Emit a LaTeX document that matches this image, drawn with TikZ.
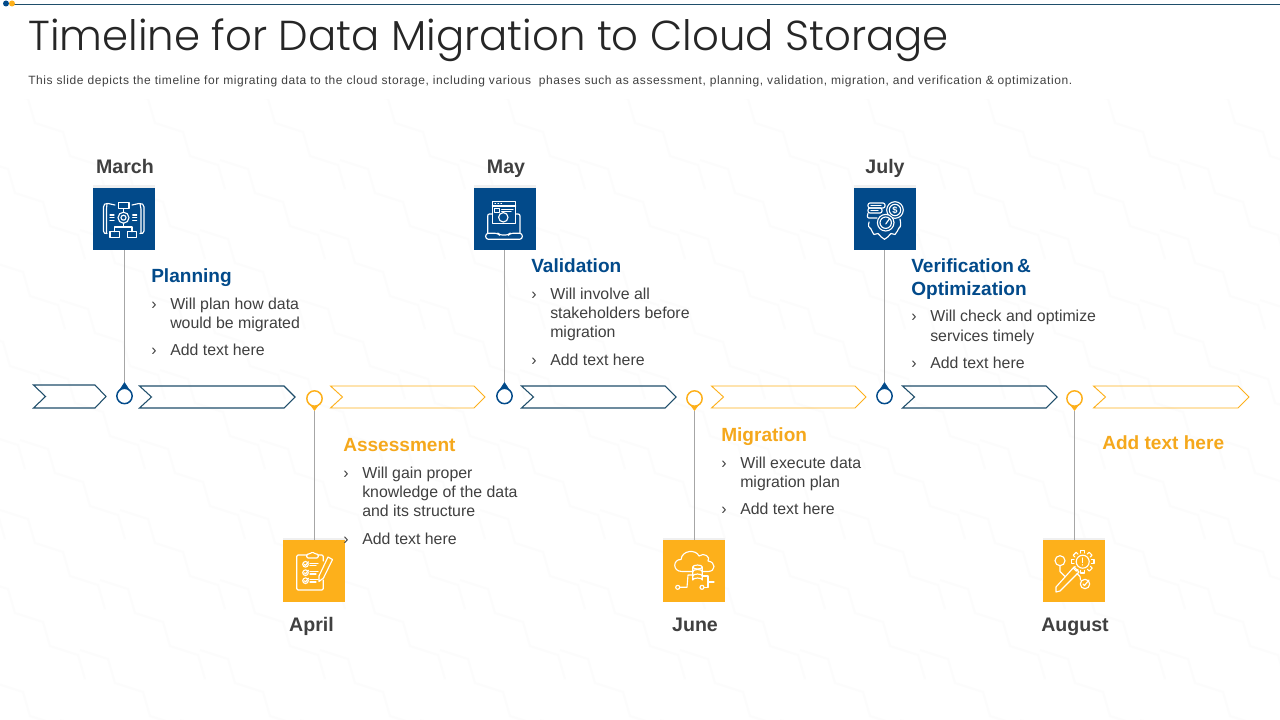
\documentclass[tikz,border=0pt]{standalone}
\usepackage{fontspec}
\setmainfont{Liberation Sans}
\newfontfamily\titlefont[Ligatures=NoCommon]{Poppins Light}
\newfontfamily\subfont[LetterSpace=4.9]{Liberation Sans}
\definecolor{bluec}{HTML}{024A8A}
\definecolor{orangec}{HTML}{FDB01B}
\definecolor{orangetxt}{HTML}{F5A81C}
\definecolor{darktxt}{HTML}{404040}
\definecolor{linegray}{HTML}{A6A6A6}
\definecolor{navyline}{HTML}{1F4E6B}
\tikzset{
  x=0.75pt,y=-0.75pt,
  tile/.style={minimum size=46.5pt,inner sep=0,outer sep=0,anchor=north west},
  bluetile/.style={tile,fill=bluec},
  orangetile/.style={tile,fill=orangec},
  month/.style={anchor=base,inner sep=0,text=darktxt,font=\fontsize{14.7}{18}\selectfont\bfseries},
  head/.style={anchor=base west,inner sep=0,font=\fontsize{14.3}{17.5}\selectfont\bfseries},
  bodytxt/.style={anchor=base west,inner sep=0,yshift=0.4pt,text=darktxt,font=\fontsize{11.9}{14.3}\selectfont},
  stem/.style={draw=linegray,line width=0.6pt},
  icon/.style={draw=white,line width=0.85pt,line join=round,line cap=round,fill=none},
  bluechev/.style={draw=navyline,line width=0.8pt,line join=miter},
  orangechev/.style={draw=orangec,line width=0.7pt,line join=miter},
  pincircle/.style={circle,minimum size=11.5pt,inner sep=0,fill=white,line width=1.1pt},
}
\newcommand{\chev}[5]{% style,left,right,top,bottom
  \pgfmathsetmacro{\midy}{(#4+#5)/2}
  \draw[#1] (#2,#4) -- (#3-11,#4) -- (#3,\midy) -- (#3-11,#5) -- (#2,#5) -- (#2+12,\midy) -- cycle;
}
\newcommand{\bul}[3]{\node[bodytxt] at (#1,#2) {›}; \node[bodytxt] at (#1+19,#2) {#3};}
\begin{document}
\begin{tikzpicture}
\useasboundingbox (0,0) rectangle (1280,720);
\fill[white] (0,0) rectangle (1280,720);
% faint background zigzag
\begin{scope}
\clip (0,100) rectangle (1280,720);
\foreach \row in {0,1,...,9}{
  \foreach \col in {-2,-1,...,11}{
    \draw[black!1.2,line width=1.5pt,line join=round]
      ({\col*120+\row*-20},{90+\row*70})
      -- ++(28,9) -- ++(7,24) -- ++(28,9) -- ++(7,24) -- ++(28,9) -- ++(7,24);
  }
}
\end{scope}
% top rule
\draw[navyline,line width=0.7pt] (14,4.5) -- (1280,4.5);
\fill[bluec] (6,3.5) circle (3);
\fill[orangec] (12,3.5) circle (3);
% title
\node[anchor=base west,inner sep=0,text=black!85] (title) at (28,50.5) {\titlefont\fontsize{31.4}{40}\selectfont Timeline for Data Migration to Cloud Storage};
\node[anchor=base west,inner sep=0,text=darktxt] (sub) at (28,85) {\subfont\fontsize{9}{11}\selectfont This slide depicts the timeline for migrating data to the cloud storage, including various\ \ phases such as assessment, planning, validation,\ migration, and verification\ \& optimization.};
% chevrons
\chev{bluechev}{33.5}{106}{385}{408}
\chev{bluechev}{139.5}{295}{386}{408}
\chev{orangechev}{330.5}{485}{386}{408}
\chev{bluechev}{521.5}{676}{386}{408}
\chev{orangechev}{711.5}{866}{386}{408}
\chev{bluechev}{902.5}{1057}{386}{408}
\chev{orangechev}{1093.5}{1249}{386}{408}
% tile shadows
\foreach \xx in {93,473.5,853.5}{ \fill[black!6] (\xx,185.5) rectangle (\xx+62,188); }
\foreach \xx in {283,663,1043}{ \fill[black!6] (\xx,537.5) rectangle (\xx+62,540); }
\node[bluetile] (t1) at (93,188) {};
\node[bluetile] (t3) at (473.5,188) {};
\node[bluetile] (t5) at (853.5,188) {};
\node[orangetile] (t2) at (283,540) {};
\node[orangetile] (t4) at (663,540) {};
\node[orangetile] (t6) at (1043,540) {};
% pins
\foreach \n/\x in {p1/124.5,p3/504.5,p5/884.5}{
  \coordinate (\n tip) at (\x,382);
  \fill[bluec] (\x-6.5,392) -- (\n tip) -- (\x+6.5,392) -- cycle;
  \node[pincircle,draw=bluec] (\n) at (\x,396) {};
}
\foreach \n/\x in {p2/314.5,p4/694.5,p6/1074.5}{
  \coordinate (\n tip) at (\x,411);
  \fill[orangec] (\x-6.5,402) -- (\n tip) -- (\x+6.5,402) -- cycle;
  \node[pincircle,draw=orangec] (\n) at (\x,398.5) {};
}
\foreach \a/\b in {t1/p1,t3/p3,t5/p5}{ \draw[stem] (\a.south -| \b tip) -- (\b tip); }
\foreach \a/\b in {t2/p2,t4/p4,t6/p6}{ \draw[stem] (\a.north -| \b tip) -- (\b tip); }
% months
\node[month] (m1) at (125,173.5) {March};
\node[month] (m3) at (506,173.5) {May};
\node[month] (m5) at (885,173.5) {July};
\node[month] (m2) at (311.5,631) {April};
\node[month] (m4) at (695,631) {June};
\node[month] (m6) at (1075,631) {August};
% planning
\node[head,text=bluec] (h1) at (151,282) {Planning};
\bul{151}{310}{Will plan how data}
\node[bodytxt] at (170,329) {would be migrated};
\bul{151}{356}{Add text here}
% validation
\node[head,text=bluec] (h3) at (531,272.5) {Validation};
\bul{531}{300}{Will involve all}
\node[bodytxt] at (550,319) {stakeholders before};
\node[bodytxt] at (550,338) {migration};
\bul{531}{366}{Add text here}
% verification
\node[head,text=bluec] (h5) at (911,272.5) {Verification\,\&};
\node[head,text=bluec] (h5b) at (911,295) {Optimization};
\bul{911}{322}{Will check and optimize}
\node[bodytxt] at (930,342) {services timely};
\bul{911}{369}{Add text here}
% assessment
\node[head,text=orangetxt] (h2) at (343,451) {Assessment};
\bul{343}{479}{Will gain proper}
\node[bodytxt] at (362,498) {knowledge of the data};
\node[bodytxt] at (362,517) {and its structure};
\bul{343}{545}{Add text here}
% migration
\node[head,text=orangetxt] (h4) at (721,441) {Migration};
\bul{721}{469}{Will execute data}
\node[bodytxt] at (740,488) {migration plan};
\bul{721}{515}{Add text here}
% august
\node[head,text=orangetxt] (h6) at (1102,449) {Add text here};
% ICON planning
\draw[icon] (118.3,202.7) rectangle (129,208.7);
\draw[icon] (123.5,217.7) circle (5.5);
\draw[icon] (123.5,217.7) circle (2.5);
\draw[icon] (123.5,208.7) -- (123.5,212.2);
\draw[icon] (123.5,223.2) -- (123.5,227) (114.7,231.7) -- (114.7,227) -- (132,227) -- (132,231.7);
\draw[icon] (110,231.7) rectangle (119.3,237.3);
\draw[icon] (127.3,231.7) rectangle (136.7,237.3);
\draw[icon] (110,215) -- (114,215) (110,217.7) -- (114,217.7) (110,220.7) -- (114,220.7);
\draw[icon] (132.7,215) -- (136.7,215) (132.7,217.7) -- (136.7,217.7) (132.7,220.7) -- (136.7,220.7);
\draw[icon] (115,205) -- (108,203.5) .. controls (105,203) and (103.5,204.5) .. (103.5,207) -- (103.5,231) .. controls (103.5,233) and (105,234) .. (107,233.5);
\draw[icon] (107,203.5) .. controls (106,206) and (106.5,207) .. (106.5,209) -- (106.5,233);
\draw[icon] (132,205) -- (139,203.5) .. controls (142,203) and (144,204.5) .. (144,207) -- (144,231) .. controls (144,233) and (142,234) .. (140,233.5);
\draw[icon] (140,203.5) .. controls (141,206) and (141,207) .. (141,209) -- (141,233);
% ICON validation
\draw[icon] (492.3,201.7) rectangle (515.7,223.3);
\draw[icon] (492.3,206) -- (515.7,206);
\draw[icon] (495,203.8) -- (495.6,203.8) (498,203.8) -- (498.6,203.8) (501,203.8) -- (501.6,203.8);
\draw[icon] (494.3,208.3) rectangle (499.7,212.3);
\draw[icon] (501.7,209.3) -- (513,209.3) (501.7,211.7) -- (511,211.7);
\draw[icon] (503.3,217.3) circle (4.7);
\draw[icon] (492.3,214) -- (489.5,214) .. controls (488.3,214) and (487.7,214.7) .. (487.7,216) -- (487.7,233.3);
\draw[icon] (515.7,214) -- (518,214) .. controls (519.3,214) and (520,214.7) .. (520,216) -- (520,233.3);
\draw[icon,rounded corners=2pt] (485.7,233.3) -- (498,233.3) -- (499.5,235) -- (508.5,235) -- (510,233.3) -- (522.3,233.3) -- (522.3,239.3) -- (485.7,239.3) -- cycle;
% ICON verification
\draw[icon,rounded corners=1.5pt] (868,203) rectangle (885,208);
\draw[icon,rounded corners=1.5pt] (868,208) rectangle (882,213);
\draw[icon,rounded corners=1.5pt] (868,213) -- (867,218) -- (877,218);
\draw[icon] (871,205.5) -- (881,205.5) (871,210.5) -- (878,210.5);
\draw[icon,fill=bluec] (895,210) circle (8.3);
\draw[icon] (895,210) circle (5.7);
\node[inner sep=0,text=white,font=\fontsize{7}{8}\selectfont\bfseries] (dollar) at (895,210) {\$};
\draw[icon,fill=bluec] (885.7,222.7) circle (8.3);
\draw[icon] (885.7,222.7) circle (5.7);
\draw[icon] (885.7,224) -- (889.3,219);
\draw[icon] (869,222) .. controls (868,226) and (868.5,228) .. (871,229) .. controls (873,232) and (872,233) .. (874,234.5) -- (878,233.5) .. controls (881,236) and (881,238) .. (884.5,239.3) .. controls (888,238) and (888,236) .. (891,233.5) -- (895,234.5) .. controls (898,232) and (896.5,231) .. (899,228) .. controls (901,227) and (901,224) .. (900,219);
% ICON assessment
\draw[icon,rounded corners=1pt] (306.7,555) -- (296.7,555) -- (296.7,590) -- (323.3,590) -- (323.3,580);
\draw[icon,rounded corners=1pt] (318.3,555) -- (323.3,555) -- (323.3,561);
\draw[icon,rounded corners=1pt] (306.7,558) -- (306.7,554) -- (310,554) -- (312.5,551.7) -- (315,554) -- (318.3,554) -- (318.3,558) -- cycle;
\foreach \yy in {564.3,572.7,580.7}{
  \draw[icon] (305.5,\yy) circle (2.8);
  \draw[icon] (304.3,\yy) -- (305.5,\yy+1.2) -- (308.5,\yy-2.5);
  \draw[icon] (310,\yy-1) -- (318,\yy-1) (310,\yy+1.3) -- (316,\yy+1.3);
}
\draw[icon] (328,557) -- (332.5,559.5) -- (323.5,578) -- (319,581.5) -- (319,576) -- cycle;
% ICON migration
\draw[icon] (692.7,571.5) -- (682,571.5) .. controls (672,571.5) and (673,559) .. (681,559.5) .. controls (682,550) and (696,549) .. (699,556) .. controls (704,552) and (711,557) .. (708,561) .. controls (716,562) and (716,571.5) .. (708,571.5) -- (702.3,571.5);
\draw[icon] (692.7,567) arc[start angle=180,end angle=-180,x radius=4.8,y radius=2] ;
\draw[icon] (692.7,567) -- (692.7,580) arc[start angle=180,end angle=360,x radius=4.8,y radius=2] -- (702.3,567);
\draw[icon] (692.7,571.5) arc[start angle=180,end angle=360,x radius=4.8,y radius=2];
\draw[icon] (692.7,576) arc[start angle=180,end angle=360,x radius=4.8,y radius=2];
\draw[icon] (692.7,575) -- (688,575) -- (687,587.3) -- (680,587.3);
\draw[icon] (677.7,587.3) circle (2);
\draw[icon] (702.3,576) -- (708,576) -- (708,587.3) -- (704,587.3);
\draw[icon] (702,587.3) circle (2);
\draw[icon] (708,582) -- (714,582);
% ICON august
\draw[icon] (1060,560.7) circle (5);
\draw[icon] (1060,565.7) -- (1060,571.5) -- (1065,576.5);
\draw[icon] (1082.7,561.7) circle (6.5);
\foreach \ang in {0,45,...,315}{
  \draw[icon] (1082.7,561.7) ++(\ang-14:9) -- ++(\ang:2.5) -- ++(\ang+90:4.2) -- ++(\ang+180:2.5);
}
\draw[icon] (1082.7,558) -- (1082.7,562.5) (1082.7,564.7) -- (1082.7,565);
\draw[icon] (1074,567) -- (1079,572) -- (1060,591) -- (1056,592) -- (1056,587) -- cycle;
\draw[icon] (1077,573.5) -- (1080,576.5) -- (1080.5,580);
\draw[icon] (1085,584) circle (4.7);
\draw[icon] (1083,584) -- (1084.5,585.5) -- (1089,580);
\end{tikzpicture}
\end{document}
